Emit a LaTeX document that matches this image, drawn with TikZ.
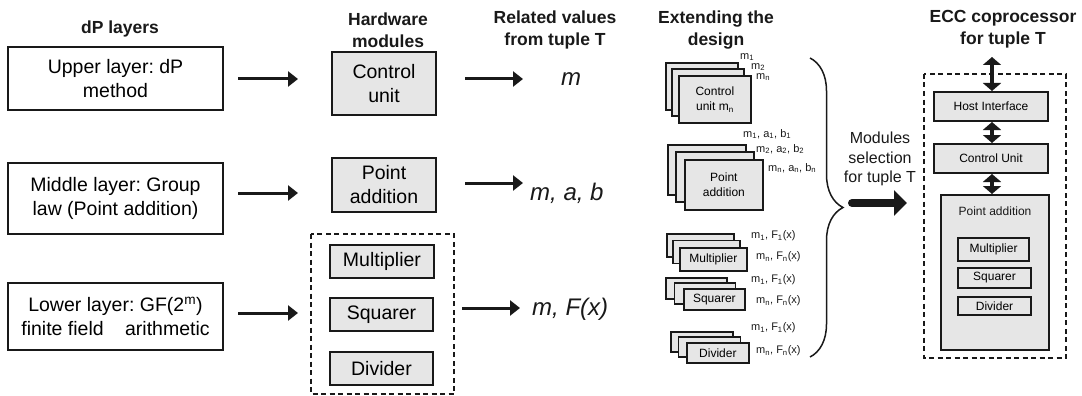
\documentclass[tikz,border=0pt]{standalone}
\usepackage{fontspec}
\setmainfont{Liberation Sans}
\usetikzlibrary{arrows.meta,decorations.pathreplacing}
\frenchspacing

\definecolor{boxgray}{RGB}{230,230,230}
\definecolor{ink}{RGB}{25,25,25}

\newcommand\fsBig{\fontsize{19.5}{24}\selectfont}
\newcommand\fsTitle{\fontsize{17.5}{21.5}\selectfont\bfseries}
\newcommand\fsVal{\fontsize{24}{28}\selectfont\itshape}
\newcommand\fsSmall{\fontsize{12}{15}\selectfont}
\newcommand\fsTiny{\fontsize{11}{13}\selectfont}
\newcommand\fsMid{\fontsize{16}{19.5}\selectfont}

\tikzset{
  layerbox/.style={draw=ink, line width=2pt, fill=white, align=center,
    font=\fsBig, inner sep=0pt, minimum width=215pt},
  hwbox/.style={draw=ink, line width=2pt, fill=boxgray, align=center,
    font=\fsBig, inner sep=0pt},
  stk/.style={draw=ink, line width=1.8pt, fill=boxgray, align=center,
    font=\fsSmall, inner sep=0pt},
  cobox/.style={draw=ink, line width=2pt, fill=boxgray, align=center,
    font=\fsSmall, inner sep=0pt},
  title/.style={font=\fsTitle, align=center, text=ink},
  grp/.style={draw=ink, line width=1.2pt, dash pattern=on 5pt off 3.5pt},
  arr/.style={draw=ink, line width=3pt, -{Triangle[length=10pt,width=15pt]}},
  dbl/.style={draw=ink, line width=4pt,
    {Triangle[length=8pt,width=18pt]}-{Triangle[length=8pt,width=18pt]}},
  bigarr/.style={draw=ink, line width=8pt, line cap=round,
    -{Triangle[length=13pt,width=25pt]}},
  val/.style={font=\fsVal, text=ink, anchor=base west, inner sep=0pt},
  tag/.style={font=\fsTiny, text=ink, anchor=west, inner sep=0pt},
}

% three staggered copies of a module, the front one is a named node
\newcommand\modstack[8]{%
  \draw[stk] (#2,#3) rectangle ++(#4,#5);
  \draw[stk] (#2+#6,#3+#7) rectangle ++(#4,#5);
  \node[stk, anchor=north west, minimum width=#4pt, minimum height=#5pt]
    (#1) at (#2+2*#6,#3+2*#7) {#8};
}

\begin{document}
\begin{tikzpicture}[x=1pt, y=-1pt]
\useasboundingbox (0,0) rectangle (1082,396);

% ---- column titles
\node[title] (t1) at (120,29) {dP layers};
\node[title] (t2) at (388,30) {Hardware\\modules};
\node[title] (t3) at (555,30) {Related values\\from tuple T};
\node[title] (t4) at (716,30) {Extending the\\design};
\node[title] (t5) at (1003,29) {ECC coprocessor\\for tuple T};

% ---- dP layers
\node[layerbox, minimum height=63pt] (up) at (115.5,78.5) {Upper layer: dP\\method};
\node[layerbox, minimum height=71pt] (mid) at (115.5,198.5) {Middle layer: Group\\law (Point addition)};
\node[layerbox, minimum height=67pt] (low) at (115.5,316.5)
  {Lower layer: GF(2\textsuperscript{m})\\finite field\hspace{16pt} arithmetic};

% ---- hardware modules
\node[hwbox, minimum width=104pt, minimum height=63pt] (cu) at (384,83.5) {Control\\unit};
\node[hwbox, minimum width=104pt, minimum height=54pt] (pa) at (384,185) {Point\\addition};
\draw[grp] (311,234) rectangle (454,394);
\node[hwbox, minimum width=104pt, minimum height=33pt] (mul) at (382,261.5) {Multiplier};
\node[hwbox, minimum width=103pt, minimum height=33pt] (sqr) at (381.5,314.5) {Squarer};
\node[hwbox, minimum width=103pt, minimum height=33pt] (dvd) at (381.5,368.5) {Divider};

% ---- arrows layer -> module -> values
\coordinate (a1s) at (238,79);  \coordinate (a1e) at (298,79);
\coordinate (a2s) at (238,193); \coordinate (a2e) at (298,193);
\coordinate (a3s) at (238,313); \coordinate (a3e) at (298,313);
\coordinate (b1s) at (465,79);  \coordinate (b1e) at (523,79);
\coordinate (b2s) at (465,183); \coordinate (b2e) at (523,183);
\coordinate (b3s) at (462,308); \coordinate (b3e) at (520,308);
\draw[arr] (a1s) -- (a1e);
\draw[arr] (a2s) -- (a2e);
\draw[arr] (a3s) -- (a3e);
\draw[arr] (b1s) -- (b1e);
\draw[arr] (b2s) -- (b2e);
\draw[arr] (b3s) -- (b3e);

% ---- related values
\node[val] (v1) at (561,85) {m};
\node[val] (v2) at (530,200) {m, a, b};
\node[val] (v3) at (532,315) {m, F(x)};

% ---- extended design: stacked modules
\modstack{xcu}{666}{63}{72}{47}{6}{6}{Control\\unit m\textsubscript{n}}
\modstack{xpa}{668}{145}{78}{50}{8}{7}{Point\\addition}
\modstack{xmu}{667}{234}{67}{23}{6}{6.5}{Multiplier}
\modstack{xsq}{666}{278}{61}{21}{8.5}{5}{Squarer}
\modstack{xdv}{671}{332}{62}{20}{7.5}{5}{Divider}

\node[tag] (c1) at (740,57) {m\textsubscript{1}};
\node[tag] (c2) at (751,67) {m\textsubscript{2}};
\node[tag] (c3) at (756,77) {m\textsubscript{n}};
\node[tag] (p1) at (743,134) {m\textsubscript{1}, a\textsubscript{1}, b\textsubscript{1}};
\node[tag] (p2) at (756,149) {m\textsubscript{2}, a\textsubscript{2}, b\textsubscript{2}};
\node[tag] (p3) at (768,168) {m\textsubscript{n}, a\textsubscript{n}, b\textsubscript{n}};
\node[tag] (m1) at (751,236) {m\textsubscript{1}, F\textsubscript{1}(x)};
\node[tag] (m2) at (756,257) {m\textsubscript{n}, F\textsubscript{n}(x)};
\node[tag] (s1) at (751,280) {m\textsubscript{1}, F\textsubscript{1}(x)};
\node[tag] (s2) at (756,301) {m\textsubscript{n}, F\textsubscript{n}(x)};
\node[tag] (d1) at (751,328) {m\textsubscript{1}, F\textsubscript{1}(x)};
\node[tag] (d2) at (756,351) {m\textsubscript{n}, F\textsubscript{n}(x)};

% ---- selection brace and arrow
\coordinate (brT) at (810,58);
\coordinate (brB) at (810,357);
\draw[ink, line width=1.5pt, decorate, decoration={brace, amplitude=33pt}] (brT) -- (brB);
\node[font=\fsMid, align=center, text=ink] (sel) at (880,159) {Modules\\selection\\for tuple T};
\coordinate (bs) at (852,203);
\coordinate (be) at (907,203);
\draw[bigarr] (bs) -- (be);

% ---- resulting coprocessor
\draw[grp] (924,74) rectangle (1066,358);
\node[cobox, minimum width=114pt, minimum height=29pt] (host) at (991,106.5) {Host Interface};
\node[cobox, minimum width=114pt, minimum height=29pt] (ctl) at (991,158.5) {Control Unit};
\node[cobox, minimum width=108pt, minimum height=155pt] (padd) at (995,272.5) {};
\node[font=\fsSmall, text=ink] (paddl) at (995,211) {Point addition};
\node[cobox, minimum width=71pt, minimum height=23pt] (cmul) at (993.5,249.5) {Multiplier};
\node[cobox, minimum width=73pt, minimum height=20pt] (csqr) at (994.5,278) {Squarer};
\node[cobox, minimum width=73pt, minimum height=18pt] (cdiv) at (994.5,306) {Divider};

\coordinate (io) at (992,57);
\draw[dbl] (io) -- (io |- host.north);
\draw[dbl] (io |- host.south) -- (io |- ctl.north);
\draw[dbl] (io |- ctl.south) -- (io |- padd.north);
\end{tikzpicture}
\end{document}
